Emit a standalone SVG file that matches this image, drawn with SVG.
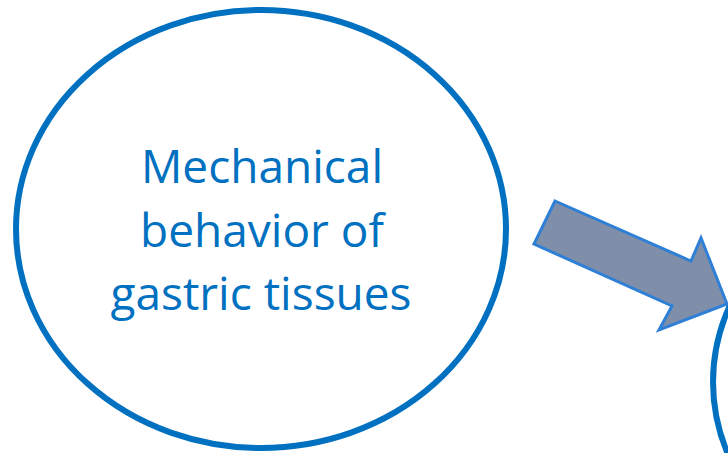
<svg xmlns="http://www.w3.org/2000/svg" width="728" height="453" viewBox="0 0 728 453">
<style>
.node{fill:#FFFFFF;stroke:#0070C0;stroke-width:6}
.lbl{fill:#0070C0;font-family:"Open Sans","Noto Sans","Liberation Sans",sans-serif;font-size:46px;text-anchor:middle}
.arrow{fill:#7F8FA9;stroke:#2E7FD6;stroke-width:3;stroke-linejoin:miter}
</style>
<rect width="728" height="453" fill="#FFFFFF"/>
<g id="node-mechanical">
<ellipse class="node" cx="261" cy="229" rx="245" ry="219"/>
<text class="lbl" x="262" y="183">Mechanical</text>
<text class="lbl" x="262" y="247">behavior of</text>
<text class="lbl" x="261" y="310">gastric tissues</text>
</g>
<g id="node-next">
<ellipse class="node" cx="958" cy="382" rx="245" ry="210"/>
</g>
<g id="connectors">
<polygon class="arrow" points="555,201 691,261 701,238 727,304 659,330 672,306 534,244"/>
</g>
</svg>
